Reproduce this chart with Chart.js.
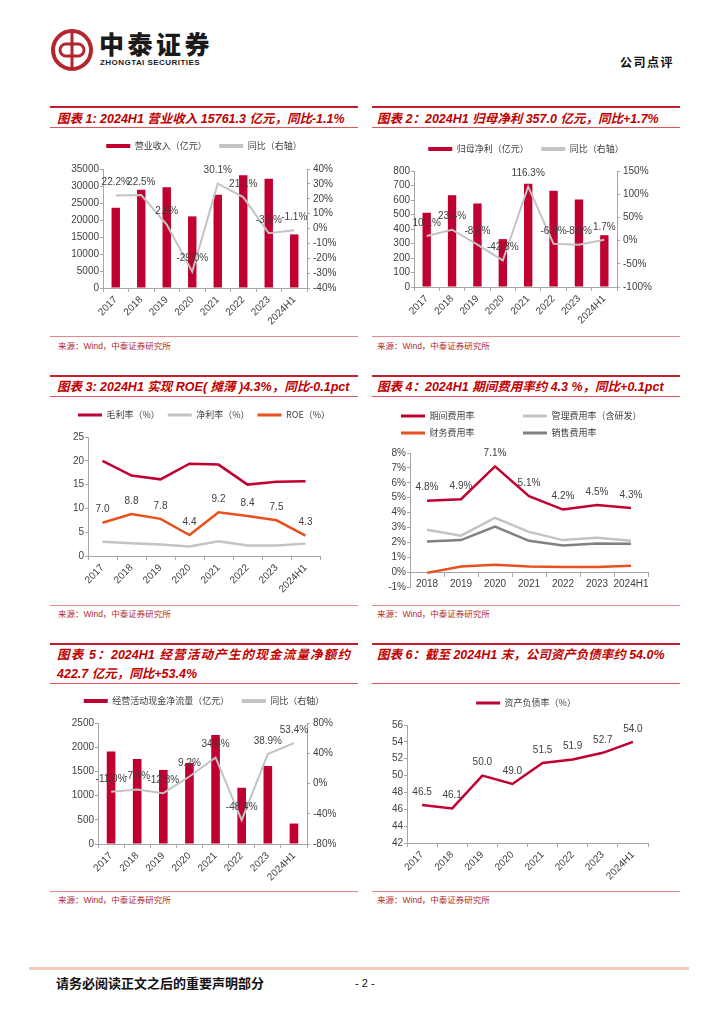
<!DOCTYPE html>
<html>
<head>
<meta charset="utf-8">
<script src="https://cdn.jsdelivr.net/npm/chart.js@4.4.1/dist/chart.umd.min.js"></script>
<style>
  body { margin: 0; background: #fff; }
  #page { position: relative; width: 724px; height: 1024px; overflow: hidden; font-family: "Liberation Sans", "Noto Sans CJK SC", sans-serif; }
  .topline { position: absolute; height: 2px; background: #C21F2C; }
  .subline { position: absolute; height: 1px; background: #D9585C; }
  .srcline { position: absolute; height: 1px; background: #E58A8A; }
  .title { position: absolute; color: #C00000; font-weight: bold; font-style: italic; font-size: 12.5px; line-height: 16px; white-space: nowrap; }
  .src { position: absolute; color: #B0282E; font-size: 8.5px; line-height: 12px; white-space: nowrap; }
  .box { position: absolute; }
</style>
</head>
<body>
<div id="page">
  <!-- header -->
  <svg style="position:absolute;left:49px;top:27px" width="48" height="48" viewBox="0 0 48 48">
    <circle cx="23" cy="23" r="19" fill="none" stroke="#B3262D" stroke-width="4"/>
    <line x1="23" y1="6" x2="23" y2="40" stroke="#B3262D" stroke-width="3"/>
    <path d="M23 17 h-6 a6 6 0 0 0 0 12 h6" fill="none" stroke="#B3262D" stroke-width="3"/>
    <path d="M23 29 h6 a6 6 0 0 0 0 -12 h-6" fill="none" stroke="#B3262D" stroke-width="3"/>
  </svg>
  <div style="position:absolute;left:99px;top:28px;font-family:'Noto Sans CJK SC';font-weight:900;font-size:25px;line-height:30px;letter-spacing:3.5px;color:#1a1a1a">中泰证券</div>
  <div style="position:absolute;left:100px;top:58px;font-family:'Liberation Sans';font-weight:bold;font-size:8px;line-height:10px;letter-spacing:0.45px;color:#1a1a1a">ZHONGTAI SECURITIES</div>
  <div style="position:absolute;left:620px;top:54px;font-family:'Noto Sans CJK SC';font-weight:bold;font-size:12px;line-height:16px;letter-spacing:1.5px;color:#111">公司点评</div>

  <!-- row 1 -->
  <div class="topline" style="left:50px;top:106px;width:308px"></div>
  <div class="title" style="left:57px;top:111px">图表 1: 2024H1 营业收入 15761.3 亿元，同比-1.1%</div>
  <div class="subline" style="left:50px;top:127px;width:308px"></div>
  <div class="box" style="left:50px;top:130px"><canvas id="c1" width="308" height="205"></canvas></div>
  <div class="srcline" style="left:50px;top:336px;width:308px"></div>
  <div class="src" style="left:58px;top:340px">来源：Wind，中泰证券研究所</div>

  <div class="topline" style="left:372px;top:106px;width:308px"></div>
  <div class="title" style="left:377px;top:111px">图表 2：2024H1 归母净利 357.0 亿元，同比+1.7%</div>
  <div class="subline" style="left:372px;top:127px;width:308px"></div>
  <div class="box" style="left:372px;top:130px"><canvas id="c2" width="308" height="205"></canvas></div>
  <div class="srcline" style="left:372px;top:336px;width:308px"></div>
  <div class="src" style="left:377px;top:340px">来源：Wind，中泰证券研究所</div>

  <!-- row 2 -->
  <div class="topline" style="left:50px;top:375px;width:308px"></div>
  <div class="title" style="left:57px;top:379px">图表 3: 2024H1 实现 ROE( 摊薄 )4.3%，同比-0.1pct</div>
  <div class="subline" style="left:50px;top:396px;width:308px"></div>
  <div class="box" style="left:50px;top:398px"><canvas id="c3" width="308" height="202"></canvas></div>
  <div class="srcline" style="left:50px;top:605px;width:308px"></div>
  <div class="src" style="left:58px;top:608px">来源：Wind，中泰证券研究所</div>

  <div class="topline" style="left:372px;top:375px;width:308px"></div>
  <div class="title" style="left:377px;top:379px">图表 4：2024H1 期间费用率约 4.3 %，同比+0.1pct</div>
  <div class="subline" style="left:372px;top:396px;width:308px"></div>
  <div class="box" style="left:372px;top:398px"><canvas id="c4" width="308" height="202"></canvas></div>
  <div class="srcline" style="left:372px;top:605px;width:308px"></div>
  <div class="src" style="left:377px;top:608px">来源：Wind，中泰证券研究所</div>

  <!-- row 3 -->
  <div class="topline" style="left:50px;top:643px;width:308px"></div>
  <div class="title" style="left:57px;top:645.5px;width:293px;line-height:19px;text-align:justify;text-align-last:justify">图表 5：2024H1 经营活动产生的现金流量净额约</div>
  <div class="title" style="left:57px;top:664.5px;line-height:19px">422.7 亿元，同比+53.4%</div>
  <div class="subline" style="left:50px;top:683px;width:308px"></div>
  <div class="box" style="left:50px;top:684px"><canvas id="c5" width="308" height="206"></canvas></div>
  <div class="srcline" style="left:50px;top:891px;width:308px"></div>
  <div class="src" style="left:58px;top:894px">来源：Wind，中泰证券研究所</div>

  <div class="topline" style="left:372px;top:643px;width:308px"></div>
  <div class="title" style="left:377px;top:645.5px;line-height:19px">图表 6：截至 2024H1 末，公司资产负债率约 54.0%</div>
  <div class="subline" style="left:372px;top:683px;width:308px"></div>
  <div class="box" style="left:372px;top:684px"><canvas id="c6" width="308" height="206"></canvas></div>
  <div class="srcline" style="left:372px;top:891px;width:308px"></div>
  <div class="src" style="left:377px;top:894px">来源：Wind，中泰证券研究所</div>

  <!-- footer -->
  <div style="position:absolute;left:29px;top:967px;width:660px;height:3px;background:#F0C9B8"></div>
  <div style="position:absolute;left:56px;top:975px;font-family:'Noto Sans CJK SC';font-weight:bold;font-size:13px;line-height:16px;color:#111">请务必阅读正文之后的重要声明部分</div>
  <div style="position:absolute;left:355px;top:976px;font-size:11px;line-height:14px;color:#111">- 2 -</div>
</div>

<script>
// 数据
const years = ['2017', '2018', '2019', '2020', '2021', '2022', '2023', '2024H1'];
const expenseYears = ['2018', '2019', '2020', '2021', '2022', '2023', '2024H1'];

const revenue = [23600, 28911, 29662, 21060, 27408, 33182, 32122, 15761.3];
const revenueYoY = [22.2, 22.5, 2.6, -29.0, 30.1, 21.1, -3.2, -1.1];
const netProfit = [512, 632, 576, 330, 712, 663, 604, 357.0];
const netProfitYoY = [10.1, 23.4, -8.7, -42.8, 116.3, -6.9, -8.8, 1.7];
const grossMargin = [20.0, 16.9, 16.1, 19.4, 19.2, 15.0, 15.6, 15.7];
const netMargin = [3.0, 2.7, 2.4, 2.0, 3.1, 2.2, 2.2, 2.6];
const roe = [7.0, 8.8, 7.8, 4.4, 9.2, 8.4, 7.5, 4.3];
const periodExp = [4.8, 4.9, 7.1, 5.1, 4.2, 4.5, 4.3];
const adminExp = [2.85, 2.45, 3.65, 2.7, 2.15, 2.3, 2.1];
const finExp = [-0.05, 0.38, 0.5, 0.38, 0.34, 0.34, 0.43];
const salesExp = [2.05, 2.15, 3.05, 2.1, 1.78, 1.92, 1.9];
const opCash = [1910, 1757, 1530, 1674, 2252, 1162, 1612, 422.7];
const opCashYoY = [-11.0, -7.9, -12.8, 9.2, 34.4, -48.4, 38.9, 53.4];
const debtRatio = [46.5, 46.1, 50.0, 49.0, 51.5, 51.9, 52.7, 54.0];

const RED = '#C00031';
const GREY_L = '#C3C3C3';
const GREY_D = '#808080';
const ORANGE = '#E8501E';
const AXIS = '#A6A6A6';
const TICK_FONT = { family: 'Liberation Sans', size: 10 };

const pct = v => v.toFixed(1) + '%';
const one = v => v.toFixed(1);

// valeurs au-dessus des points
const valueLabels = {
  id: 'valueLabels',
  afterDatasetsDraw(chart) {
    const ctx = chart.ctx;
    ctx.save();
    ctx.font = '10px "Liberation Sans"';
    ctx.fillStyle = '#404040';
    ctx.textAlign = 'center';
    ctx.textBaseline = 'middle';
    chart.data.datasets.forEach((ds, i) => {
      if (!ds.valueLabel) return;
      chart.getDatasetMeta(i).data.forEach((pt, j) => {
        ctx.fillText(ds.valueLabel(ds.data[j]), pt.x, pt.y - 13);
      });
    });
    ctx.restore();
  }
};

// espace entre legende et graphique, decalage horizontal de la legende
const legendGap = {
  id: 'legendGap',
  beforeLayout(chart, args, opts) {
    const lg = chart.legend;
    if (!lg || lg._gapPatched) return;
    const fit = lg.fit.bind(lg);
    lg.fit = function () { fit(); this.height += opts.gap || 0; };
    lg._gapPatched = true;
  },
  afterLayout(chart, args, opts) {
    if (chart.legend && opts.shiftX) {
      chart.legend.left += opts.shiftX;
      chart.legend.right += opts.shiftX;
    }
  }
};

function legendOpts(boxH, gap, align, shiftX) {
  return {
    legend: {
      display: true, position: 'top', align: align || 'center',
      labels: {
        boxWidth: 24, boxHeight: boxH, padding: 8,
        font: { family: 'Noto Sans CJK SC', size: 9 }, color: '#404040',
        sort: (a, b) => a.datasetIndex - b.datasetIndex,
        generateLabels: chart => Chart.defaults.plugins.legend.labels.generateLabels(chart)
          .map(l => Object.assign(l, { lineWidth: 0 }))
      }
    },
    legendGap: { gap, shiftX: shiftX || 0 },
    tooltip: { enabled: false }
  };
}

function yAxis(pos, w, min, max, step, fmt, show = true) {
  return {
    position: pos, min, max, display: true,
    afterFit: s => { s.width = w; },
    border: { display: show, color: AXIS },
    grid: { display: show, drawOnChartArea: false, tickLength: 3, color: AXIS },
    ticks: { display: show, autoSkip: false, stepSize: step, padding: pos === 'left' ? 1 : 3, callback: fmt || (v => v), font: TICK_FONT, color: '#404040' }
  };
}

function xAxis(h, rotate, extra) {
  return Object.assign({
    offset: true,
    afterFit: s => { s.height = h; },
    border: { color: AXIS },
    grid: { drawOnChartArea: false, tickLength: 4, color: AXIS, offset: true },
    ticks: { font: TICK_FONT, color: '#404040', maxRotation: rotate, minRotation: rotate, autoSkip: false, padding: 2 }
  }, extra || {});
}

function makeChart(id, type, datasets, labels, pad, plugins, scales) {
  return new Chart(document.getElementById(id), {
    type,
    data: { labels, datasets },
    options: { responsive: false, animation: false, events: [], layout: { padding: pad }, plugins, scales },
    plugins: [valueLabels, legendGap]
  });
}

const pctTick = v => v + '%';

// 图表1
makeChart('c1', 'bar', [
  { type: 'bar', label: '营业收入（亿元）\u3000', data: revenue, backgroundColor: RED, yAxisID: 'y', order: 1, barPercentage: 0.33, categoryPercentage: 1 },
  { type: 'line', label: '同比（右轴）', data: revenueYoY, borderColor: GREY_L, backgroundColor: GREY_L, borderWidth: 2, pointRadius: 0, yAxisID: 'y2', order: 0, valueLabel: pct }
], years, { top: 3.5, left: 0, right: 0, bottom: 0 }, legendOpts(4, 8.5), {
  x: xAxis(47, 45),
  y: yAxis('left', 53, 0, 35000, 5000),
  y2: yAxis('right', 51, -40, 40, 10, pctTick)
});

// 图表2
makeChart('c2', 'bar', [
  { type: 'bar', label: '归母净利（亿元）\u2002', data: netProfit, backgroundColor: RED, yAxisID: 'y', order: 1, barPercentage: 0.33, categoryPercentage: 1 },
  { type: 'line', label: '同比（右轴）', data: netProfitYoY, borderColor: GREY_L, backgroundColor: GREY_L, borderWidth: 2, pointRadius: 0, yAxisID: 'y2', order: 0, valueLabel: pct }
], years, { top: 6.5, left: 0, right: 0, bottom: 0 }, legendOpts(4, 7.5), {
  x: xAxis(48, 45),
  y: yAxis('left', 42, 0, 800, 100),
  y2: yAxis('right', 63, -100, 150, 50, pctTick)
});

// 图表3
makeChart('c3', 'line', [
  { label: '毛利率（%）', data: grossMargin, borderColor: RED, backgroundColor: RED, borderWidth: 2.5, pointRadius: 0 },
  { label: '净利率（%）', data: netMargin, borderColor: GREY_L, backgroundColor: GREY_L, borderWidth: 2.5, pointRadius: 0 },
  { label: 'ROE（%）', data: roe, borderColor: ORANGE, backgroundColor: ORANGE, borderWidth: 2.5, pointRadius: 0, valueLabel: one }
], years, { top: 4.5, left: 0, right: 0, bottom: 0 }, legendOpts(3, 7.5), {
  x: xAxis(44, 45),
  y: yAxis('left', 38, 0, 25, 5),
  y2: yAxis('right', 38, 0, 1, 1, null, false)
});

// 图表4
makeChart('c4', 'line', [
  { label: '期间费用率\u3000\u3000\u3000\u3000\u2002', data: periodExp, borderColor: RED, backgroundColor: RED, borderWidth: 2.5, pointRadius: 0, valueLabel: pct },
  { label: '管理费用率（含研发）', data: adminExp, borderColor: GREY_L, backgroundColor: GREY_L, borderWidth: 2.5, pointRadius: 0 },
  { label: '财务费用率\u3000\u3000\u3000\u3000\u2002', data: finExp, borderColor: ORANGE, backgroundColor: ORANGE, borderWidth: 2.5, pointRadius: 0 },
  { label: '销售费用率', data: salesExp, borderColor: GREY_D, backgroundColor: GREY_D, borderWidth: 2.5, pointRadius: 0 }
], expenseYears, { top: 5.5, left: 0, right: 0, bottom: 13 }, legendOpts(3, 5.5, 'start', 21), {
  x: xAxis(20, 0, { position: { y: 0 } }),
  y: yAxis('left', 38, -1, 8, 1, pctTick),
  y2: yAxis('right', 32, 0, 1, 1, null, false)
});

// 图表5
makeChart('c5', 'bar', [
  { type: 'bar', label: '经营活动现金净流量（亿元）\u2002', data: opCash, backgroundColor: RED, yAxisID: 'y', order: 1, barPercentage: 0.33, categoryPercentage: 1 },
  { type: 'line', label: '同比（右轴）', data: opCashYoY, borderColor: GREY_L, backgroundColor: GREY_L, borderWidth: 2, pointRadius: 0, yAxisID: 'y2', order: 0, valueLabel: pct }
], years, { top: 4.5, left: 0, right: 0, bottom: 0 }, legendOpts(4, 7.5), {
  x: xAxis(46, 45),
  y: yAxis('left', 48, 0, 2500, 500),
  y2: yAxis('right', 51, -80, 80, 40, pctTick)
});

// 图表6
makeChart('c6', 'line', [
  { label: '资产负债率（%）', data: debtRatio, borderColor: RED, backgroundColor: RED, borderWidth: 2.5, pointRadius: 0, tension: 0, valueLabel: one }
], years, { top: 6.5, left: 0, right: 0, bottom: 0 }, legendOpts(3, 7.5), {
  x: xAxis(47, 45),
  y: yAxis('left', 35, 42, 56, 2),
  y2: yAxis('right', 32, 0, 1, 1, null, false)
});
</script>
</body>
</html>
